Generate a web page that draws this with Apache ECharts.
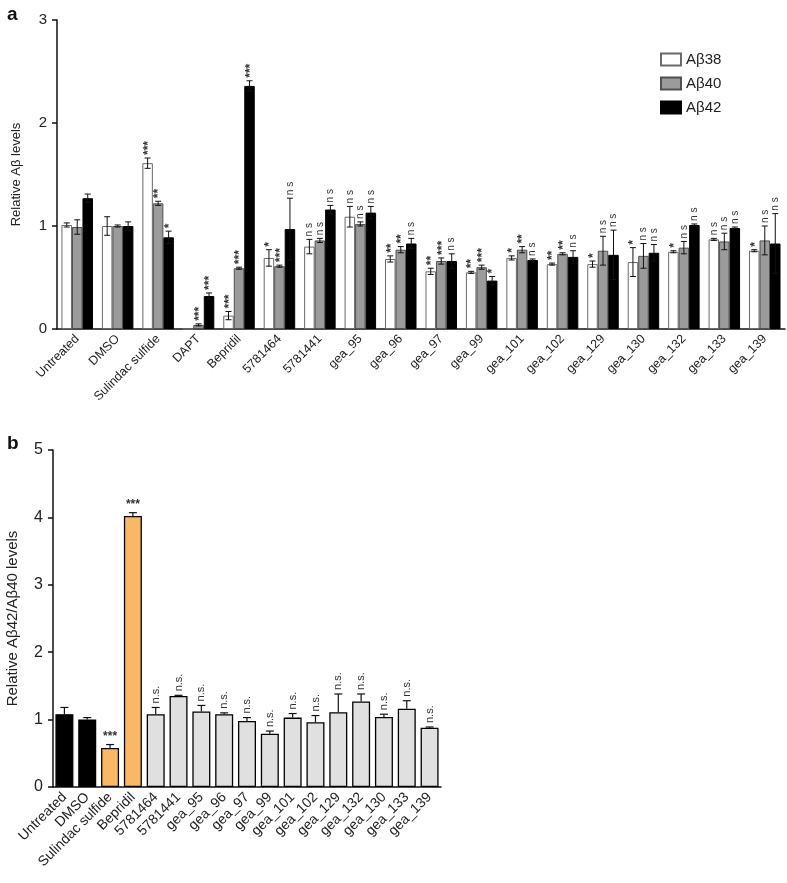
<!DOCTYPE html>
<html>
<head>
<meta charset="utf-8">
<script src="https://cdn.jsdelivr.net/npm/echarts@6/dist/echarts.min.js"></script>
<style>
html,body{margin:0;padding:0;background:#fff;}
#chart{width:787px;height:883px;}
</style>
</head>
<body>
<div id="chart"></div>
<script>
// ---------- Panel a data ----------
const categoriesA = ['Untreated','DMSO','Sulindac sulfide','DAPT','Bepridil','5781464','5781441','gea_95','gea_96','gea_97','gea_99','gea_101','gea_102','gea_129','gea_130','gea_132','gea_133','gea_139'];
const abeta38 = [1.01,1.00,1.61,0.00,0.13,0.69,0.80,1.09,0.68,0.56,0.55,0.69,0.63,0.63,0.65,0.75,0.87,0.76];
const err38   = [0.02,0.09,0.05,0.00,0.04,0.08,0.07,0.10,0.03,0.03,0.01,0.02,0.01,0.03,0.14,0.01,0.01,0.01];
const abeta40 = [0.99,1.00,1.22,0.04,0.59,0.61,0.86,1.02,0.77,0.66,0.60,0.77,0.73,0.76,0.71,0.79,0.85,0.86];
const err40   = [0.07,0.01,0.02,0.01,0.01,0.01,0.02,0.02,0.03,0.03,0.02,0.03,0.01,0.14,0.12,0.06,0.08,0.14];
const abeta42 = [1.27,1.00,0.89,0.32,2.36,0.97,1.16,1.13,0.83,0.66,0.47,0.67,0.70,0.72,0.74,1.01,0.98,0.83];
const err42   = [0.04,0.04,0.06,0.03,0.05,0.30,0.04,0.06,0.05,0.07,0.04,0.01,0.06,0.24,0.08,0.01,0.01,0.29];
const sig38 = ['','','***','','***','*','n s','n s','**','**','**','*','**','*','*','*','n s','*'];
const sig40 = ['','','**','***','***','***','n s','n s','**','***','***','**','**','n s','n s','n s','n s','n s'];
const sig42 = ['','','*','***','***','n s','n s','n s','n s','n s','*','n s','n s','n s','n s','n s','n s','n s'];
const seriesNamesA = ['Aβ38','Aβ40','Aβ42'];
const yTicksA = [0,1,2,3];

// ---------- Panel b data ----------
const categoriesB = ['Untreated','DMSO','Sulindac sulfide','Bepridil','5781464','5781441','gea_95','gea_96','gea_97','gea_99','gea_101','gea_102','gea_129','gea_132','gea_130','gea_133','gea_139'];
const ratioB    = [1.08,1.00,0.58,4.02,1.08,1.35,1.12,1.08,0.98,0.79,1.03,0.96,1.11,1.27,1.04,1.16,0.88];
const ratioErrB = [0.10,0.03,0.05,0.05,0.10,0.01,0.09,0.02,0.05,0.04,0.06,0.10,0.27,0.11,0.04,0.12,0.01];
const sigB = ['','','***','***','n.s.','n.s.','n.s.','n.s.','n.s.','n.s.','n.s.','n.s.','n.s.','n.s.','n.s.','n.s.','n.s.'];
const controlsB = ['Untreated','DMSO'];
const referencesB = ['Sulindac sulfide','Bepridil'];
const yTicksB = [0,1,2,3,4,5];

// ---------- styling ----------
const FONT = 'Liberation Sans, Arial, Helvetica, sans-serif';
const BW_A = 10.5;
const stylesA = [
  {color:'#ffffff', borderColor:'#6a6a6a', borderWidth:1},
  {color:'#9b9b9b', borderColor:'#505050', borderWidth:1},
  {color:'#000000', borderColor:'#000000', borderWidth:1}
];
function colorB(name){
  if (controlsB.indexOf(name) >= 0) return '#000000';
  if (referencesB.indexOf(name) >= 0) return '#f9b866';
  return '#e0e0e0';
}

function errRendererA(values, errs, sigs, k){
  return function(params, api){
    const i = params.dataIndex;
    const v = values[i], e = errs[i];
    const base = api.coord([i, v]);
    const x = base[0] + (k - 1) * BW_A;
    const yt = api.coord([i, v + e])[1];
    const yb = api.coord([i, Math.max(v - e, 0)])[1];
    const children = [];
    const ls = {stroke:'#111', lineWidth:1};
    if (e > 0) {
      children.push({type:'line', shape:{x1:x, y1:yt, x2:x, y2:yb}, style:ls});
      children.push({type:'line', shape:{x1:x-3, y1:yt, x2:x+3, y2:yt}, style:ls});
      children.push({type:'line', shape:{x1:x-3, y1:yb, x2:x+3, y2:yb}, style:ls});
    }
    const s = sigs[i];
    if (s) {
      const isStar = s.indexOf('*') >= 0;
      children.push({type:'text', x:x, y:yt-3, rotation:Math.PI/2,
        style:{text:s, x:0, y:isStar ? 1 : 0, align:'left', verticalAlign:'middle',
               font:(isStar ? 'bold 12px ' : '10px ') + FONT, fill:'#333'}});
    }
    return {type:'group', children:children};
  };
}

function errRendererB(params, api){
  const i = params.dataIndex;
  const v = ratioB[i], e = ratioErrB[i];
  const x = api.coord([i, v])[0];
  const y0 = api.coord([i, v])[1];
  const yt = api.coord([i, v + e])[1];
  const ls = {stroke:'#111', lineWidth:1.2};
  const children = [
    {type:'line', shape:{x1:x, y1:yt, x2:x, y2:y0}, style:ls},
    {type:'line', shape:{x1:x-4, y1:yt, x2:x+4, y2:yt}, style:ls}
  ];
  const s = sigB[i];
  if (s === 'n.s.') {
    children.push({type:'text', x:x, y:yt-4, rotation:Math.PI/2,
      style:{text:s, x:0, y:0, align:'left', verticalAlign:'middle', font:'11px ' + FONT, fill:'#333'}});
  } else if (s) {
    children.push({type:'text', x:x, y:yt-2,
      style:{text:s, x:0, y:0, align:'center', verticalAlign:'bottom', font:'bold 12px ' + FONT, fill:'#333'}});
  }
  return {type:'group', children:children};
}

const valsA = [abeta38, abeta40, abeta42];
const errsA = [err38, err40, err42];
const sigsA = [sig38, sig40, sig42];

const series = [];
seriesNamesA.forEach(function(name, k){
  series.push({
    name:name, type:'bar', xAxisIndex:0, yAxisIndex:0,
    data: valsA[k], barWidth:BW_A, barGap:'0%',
    itemStyle: stylesA[k], z:2
  });
});
seriesNamesA.forEach(function(name, k){
  series.push({
    name:'err_' + name, type:'custom', xAxisIndex:0, yAxisIndex:0,
    data: valsA[k].map(function(v,i){ return [i, v + errsA[k][i]]; }),
    encode:{x:0, y:1}, renderItem: errRendererA(valsA[k], errsA[k], sigsA[k], k),
    z:5, silent:true
  });
});
series.push({
  name:'ratio', type:'bar', xAxisIndex:1, yAxisIndex:1, barWidth:18,
  data: ratioB.map(function(v,i){ return {value:v, itemStyle:{color:colorB(categoriesB[i])}}; }),
  itemStyle:{borderColor:'#000', borderWidth:1.3}, z:2
});
series.push({
  name:'ratio_err', type:'custom', xAxisIndex:1, yAxisIndex:1,
  data: ratioB.map(function(v,i){ return [i, v + ratioErrB[i]]; }),
  encode:{x:0, y:1}, renderItem: errRendererB, z:5, silent:true
});

function yAxisCommon(gridIndex, ticks, name, nameSize, labelSize, margin, gap){
  return {
    type:'value', gridIndex:gridIndex, min:ticks[0], max:ticks[ticks.length-1], interval:1,
    name:name, nameLocation:'middle', nameGap:gap,
    nameTextStyle:{fontFamily:FONT, fontSize:nameSize, color:'#222'},
    axisLine:{show:true, lineStyle:{color:'#111', width:1.5}},
    axisTick:{show:true, length:5, lineStyle:{color:'#111', width:1.5}},
    axisLabel:{fontFamily:FONT, fontSize:labelSize, color:'#222', margin:margin},
    splitLine:{show:false}
  };
}
function xAxisCommon(gridIndex, cats, labelSize){
  return {
    type:'category', gridIndex:gridIndex, data:cats,
    axisLine:{lineStyle:{color:'#111', width:1.5}},
    axisTick:{alignWithLabel:true, length:5, lineStyle:{color:'#111', width:1.5}},
    axisLabel:{rotate:45, interval:0, fontFamily:FONT, fontSize:labelSize, color:'#222', margin:8},
    splitLine:{show:false}
  };
}

const option = {
  animation:false,
  backgroundColor:'#fff',
  title:[
    {text:'a', left:2, top:0, textStyle:{fontFamily:FONT, fontSize:19, fontWeight:'bold', color:'#111'}},
    {text:'b', left:2, top:429, textStyle:{fontFamily:FONT, fontSize:19, fontWeight:'bold', color:'#111'}}
  ],
  legend:{
    data:seriesNamesA, orient:'vertical', left:655, top:47, icon:'rect',
    itemWidth:20, itemHeight:12, itemGap:9,
    textStyle:{fontFamily:FONT, fontSize:15, color:'#222'}
  },
  grid:[
    {left:57, top:20, width:728, height:309},
    {left:53, top:450, width:388, height:337}
  ],
  xAxis:[ xAxisCommon(0, categoriesA, 12.5), xAxisCommon(1, categoriesB, 14) ],
  yAxis:[
    yAxisCommon(0, yTicksA, 'Relative Aβ levels', 13, 15, 10, 34),
    yAxisCommon(1, yTicksB, 'Relative Aβ42/Aβ40 levels', 15, 16, 10, 33)
  ],
  series:series
};

const chart = echarts.init(document.getElementById('chart'), null, {renderer:'canvas'});
chart.setOption(option);
</script>
</body>
</html>
